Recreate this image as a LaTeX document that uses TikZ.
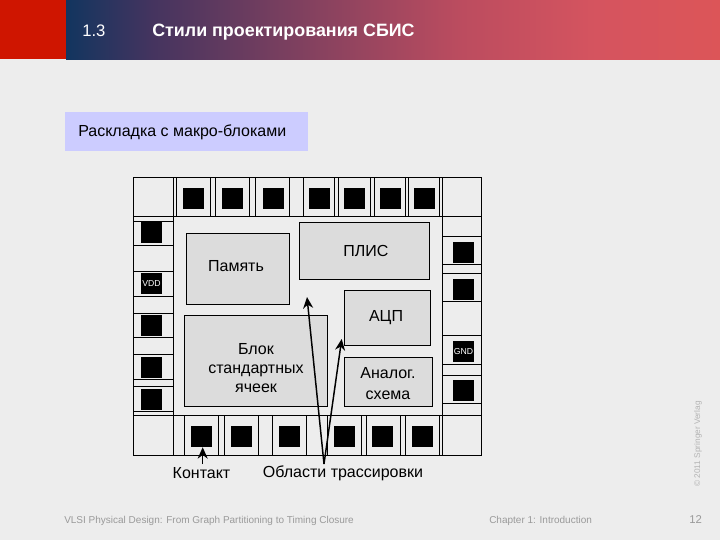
\documentclass[tikz,border=0pt]{standalone}
\usepackage{fontspec}
\setmainfont{Liberation Sans}
\usetikzlibrary{arrows.meta}
\definecolor{page}{HTML}{EDEDED}
\definecolor{blockgray}{HTML}{DCDCDC}
\definecolor{headred}{HTML}{CF1500}
\definecolor{lavender}{HTML}{CCCCFF}
\definecolor{footgray}{HTML}{9A9A9A}
\definecolor{credit}{HTML}{B4B4B4}
\definecolor{headA}{HTML}{12355F}
\definecolor{headB}{HTML}{44345F}
\definecolor{headC}{HTML}{88425F}
\definecolor{headD}{HTML}{BB4C5F}
\definecolor{headE}{HTML}{D5545F}
\definecolor{headF}{HTML}{DC5558}
\pgfdeclarehorizontalshading{headband}{100bp}{
  color(0bp)=(headA); color(25bp)=(headA); color(31.5bp)=(headB); color(44.5bp)=(headC);
  color(55bp)=(headD); color(65.5bp)=(headE); color(75bp)=(headF); color(100bp)=(headF)}
\tikzset{
  pad/.style={fill=black,text=white,inner sep=0pt,minimum size=15.75pt,font=\fontsize{6.5}{7}\selectfont},
  block/.style={draw,line width=.75pt,fill=blockgray,inner sep=0pt},
  lbl/.style={align=center,inner sep=0pt,font=\fontsize{12}{14.25}\selectfont},
  footer/.style={text=footgray,anchor=west,inner sep=0pt,font=\fontsize{7.5}{9}\selectfont},
  cellline/.style={line width=.75pt},
  leadline/.style={line width=1.1pt,-{Stealth[length=8.5pt,width=7.5pt]}}
}
\begin{document}
\begin{tikzpicture}[x=.75pt,y=-.75pt]
\useasboundingbox (0,0) rectangle (720,540);
\fill[page] (0,0) rectangle (720,540);
% header band
\shade[shading=headband] (66,0) rectangle (720,59.5);
\fill[headred] (0,0) rectangle (66,59);
\node[anchor=base west,inner sep=0pt,text=white,font=\fontsize{12.5}{14}\selectfont] (secno) at (82,36) {1.3};
\node[anchor=base west,inner sep=0pt,text=white,font=\fontsize{13.4}{14}\selectfont\bfseries] (title) at (152,36) {Стили проектирования СБИС};
\node[anchor=west,fill=lavender,minimum width=182.25pt,minimum height=29.25pt,inner sep=0pt] (tag) at (65,131.5) {};
\node[lbl,anchor=west] (tagtxt) at (78,132) {Раскладка с макро-блоками};
% outline and cells
\draw[cellline] (133.5,177.5) rectangle (481.5,455);
\draw[cellline] (133.5,216.5) -- (481.5,216.5);
\draw[cellline] (133.5,415.5) -- (481.5,415.5);
\draw[cellline] (173.5,177.5) -- (173.5,455);
\draw[cellline] (442.5,177.5) -- (442.5,455);
\foreach \xa in {176.7,210.3,215.3,249.3,255.3,289.3,303.3,334.5,338.5,370.3,374.3,405.3,408.3,439.3}
  \draw[cellline] (\xa,177.5) -- (\xa,216.5);
\foreach \xa in {184,218.3,224.3,258.3,272.3,306.5,327.5,361.7,366.3,400.7,405.3,439.3}
  \draw[cellline] (\xa,415.5) -- (\xa,455);
\foreach \ya in {221.3,245.3,271.3,296.3,313.3,337,354.3,379.3,386.3,411.3}
  \draw[cellline] (133.5,\ya) -- (173.5,\ya);
\foreach \ya in {236.3,264.3,273.3,301.3,335.3,364.3,375.3,403.3}
  \draw[cellline] (442.5,\ya) -- (481.5,\ya);
% contacts
\foreach \xa [count=\i] in {193,232.5,273.5,319.5,354.5,390.5,424.5}
  \node[pad] (top\i) at (\xa,198.5) {};
\foreach \xa [count=\i] in {201.5,241.5,289.5,344.5,382.5,422.5}
  \node[pad] (bot\i) at (\xa,436.5) {};
\foreach \ya [count=\i] in {232,325.5,367.5,399.5}
  \node[pad] (left\i) at (151.5,\ya) {};
\foreach \ya [count=\i] in {252.5,289,390}
  \node[pad] (right\i) at (463.5,\ya) {};
\node[pad] (vdd) at (151.5,283.5) {VDD};
\node[pad] (gnd) at (463.5,351.5) {GND};
% blocks
\node[block,minimum width=77.5pt,minimum height=53.5pt] (mem) at (238,269) {};
\node[block,minimum width=97.75pt,minimum height=42.75pt] (fpga) at (364.5,250.8) {};
\node[block,minimum width=64.75pt,minimum height=41.25pt] (adc) at (387.3,317.8) {};
\node[block,minimum width=107.25pt,minimum height=68.25pt] (std) at (255.8,360.8) {};
\node[block,minimum width=66.25pt,minimum height=36.75pt] (ana) at (388.5,381.8) {};
\node[lbl] (memtxt) at (236,266) {Память};
\node[lbl] (fpgatxt) at (366,251) {ПЛИС};
\node[lbl] (adctxt) at (386,317.5) {АЦП};
\node[lbl] (stdtxt) at (256,368.5) {Блок\\стандартных\\ячеек};
\node[lbl] (anatxt) at (388,383.5) {Аналог.\\[2pt]схема};
% bottom labels and arrows
\node[lbl] (contact) at (201.5,473.5) {Контакт};
\node[lbl] (routing) at (343,473.5) {Области трассировки};
\coordinate (apex) at (324,464);
\coordinate (tipa) at (307,297);
\coordinate (tipb) at (341.7,339);
\coordinate (stem) at (202.7,464);
\draw[leadline] (apex) -- (tipa);
\draw[leadline] (apex) -- (tipb);
\draw[leadline] (stem) -- (bot1.south -| stem);
% footer
\node[footer] (book) at (64,520.5) {VLSI Physical Design: From Graph Partitioning to Timing Closure};
\node[footer] (chap) at (489,520.5) {Chapter 1: Introduction};
\node[footer,font=\fontsize{8.5}{9}\selectfont] (num) at (689,519.5) {12};
\node[anchor=west,inner sep=0pt,text=credit,rotate=90,font=\fontsize{6.2}{7}\selectfont] (copy) at (698,487) {© 2011 Springer Verlag};
\end{tikzpicture}
\end{document}
